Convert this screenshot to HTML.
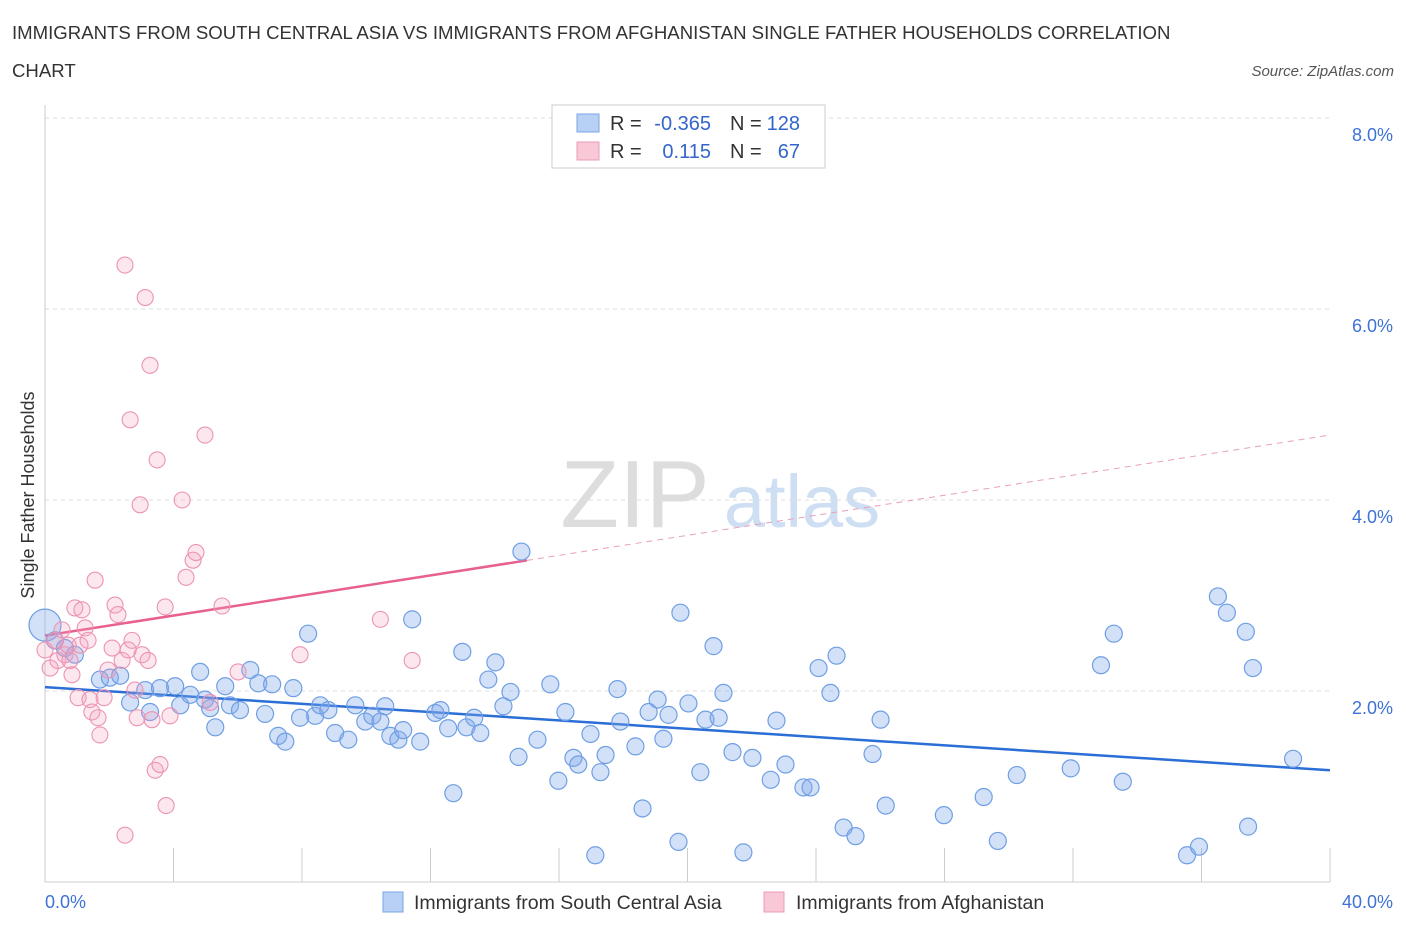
<!DOCTYPE html>
<html><head><meta charset="utf-8"><style>
body{margin:0;background:#fff;font-family:"Liberation Sans",sans-serif;}
svg text{font-family:"Liberation Sans",sans-serif;}
</style></head><body>
<svg id="chart" width="1406" height="930" xmlns="http://www.w3.org/2000/svg">
<text x="12" y="39" font-size="18.6" fill="#333">IMMIGRANTS FROM SOUTH CENTRAL ASIA VS IMMIGRANTS FROM AFGHANISTAN SINGLE FATHER HOUSEHOLDS CORRELATION</text>
<text x="12" y="77" font-size="18.6" fill="#333">CHART</text>
<text x="1394" y="76" font-size="15" fill="#555" text-anchor="end" font-style="italic">Source: ZipAtlas.com</text>
<g>
<text x="635" y="527" font-size="96" fill="#ddd" text-anchor="middle" font-family="Liberation Serif,serif">ZIP</text>
<text x="802" y="527" font-size="74" fill="#cfdff3" text-anchor="middle">atlas</text>
</g>
<g id="grid"></g>
<g id="axes"></g>
<g id="trends"></g>
<g id="points"></g>
<text transform="translate(34,495) rotate(-90)" font-size="18" fill="#333" text-anchor="middle">Single Father Households</text>
<g>
<rect x="552" y="105" width="273" height="63" fill="#fff" stroke="#ccc"/>
<rect x="577" y="114" width="22" height="18" fill="#b9d0f5" stroke="#7aa4e6"/>
<rect x="577" y="142" width="22" height="18" fill="#f9c8d7" stroke="#ec9bb6"/>
<text x="610" y="130" font-size="20" fill="#333">R =</text>
<text x="711" y="130" font-size="20" fill="#3366cc" text-anchor="end">-0.365</text>
<text x="730" y="130" font-size="20" fill="#333">N =</text>
<text x="800" y="130" font-size="20" fill="#3366cc" text-anchor="end">128</text>
<text x="610" y="158" font-size="20" fill="#333">R =</text>
<text x="711" y="158" font-size="20" fill="#3366cc" text-anchor="end">0.115</text>
<text x="730" y="158" font-size="20" fill="#333">N =</text>
<text x="800" y="158" font-size="20" fill="#3366cc" text-anchor="end">67</text>
</g>
<g>
<rect x="383" y="892" width="20" height="20" fill="#b9d0f5" stroke="#7aa4e6"/>
<text x="414" y="909" font-size="19.5" fill="#333">Immigrants from South Central Asia</text>
<rect x="764" y="892" width="20" height="20" fill="#f9c8d7" stroke="#ec9bb6"/>
<text x="796" y="909" font-size="19.5" fill="#333">Immigrants from Afghanistan</text>
</g>
</svg>
<script>
const blueX=[0,0.31,0.62,0.93,1.71,2.02,2.34,2.65,3.12,3.27,3.58,4.05,4.21,4.52,4.83,4.98,5.14,5.30,5.61,5.76,6.07,6.39,6.64,6.85,7.07,7.26,7.48,7.73,7.94,8.19,8.41,8.57,8.82,9.03,9.44,9.66,9.97,10.19,10.44,10.59,10.75,11.00,11.15,11.43,11.68,12.15,12.31,12.55,12.71,12.99,13.12,13.36,13.55,13.80,14.02,14.27,14.49,14.74,14.83,15.33,15.73,15.98,16.20,16.45,16.60,16.98,17.13,17.29,17.45,17.82,17.91,18.38,18.60,18.79,19.07,19.25,19.41,19.72,19.78,20.03,20.40,20.56,20.81,20.97,21.12,21.40,21.74,22.02,22.59,22.77,23.05,23.61,23.83,24.08,24.45,24.64,24.86,25.23,25.76,26.01,26.17,27.98,29.22,29.66,30.25,31.93,32.87,33.27,33.55,35.55,35.92,36.51,36.79,37.38,37.45,37.60,38.85];
const blueY=[2.69,2.53,2.45,2.38,2.12,2.14,2.16,1.88,2.01,1.78,2.03,2.05,1.85,1.96,2.20,1.91,1.82,1.62,2.05,1.85,1.80,2.22,2.08,1.76,2.07,1.53,1.47,2.03,1.72,2.60,1.74,1.85,1.80,1.56,1.49,1.85,1.68,1.74,1.68,1.84,1.53,1.49,1.59,2.75,1.47,1.77,1.80,1.61,0.93,2.41,1.62,1.72,1.56,2.12,2.30,1.84,1.99,1.31,3.46,1.49,2.07,1.06,1.78,1.30,1.23,1.55,0.28,1.15,1.33,2.02,1.68,1.42,0.77,1.78,1.91,1.50,1.75,0.42,2.82,1.87,1.15,1.70,2.47,1.72,1.98,1.36,0.31,1.30,1.07,1.69,1.23,0.99,0.99,2.24,1.98,2.37,0.57,0.48,1.34,1.70,0.80,0.70,0.89,0.43,1.12,1.19,2.27,2.60,1.05,0.28,0.37,2.99,2.82,2.62,0.58,2.24,1.29];
const pinkX=[0,0.16,0.31,0.40,0.53,0.62,0.72,0.78,0.84,0.93,1.03,1.09,1.15,1.25,1.34,1.40,1.46,1.56,1.65,1.71,1.84,1.96,2.09,2.18,2.27,2.40,2.49,2.49,2.59,2.65,2.71,2.80,2.87,2.96,3.02,3.12,3.21,3.27,3.33,3.43,3.49,3.58,3.74,3.77,3.89,4.27,4.39,4.61,4.70,4.98,5.14,5.51,6.01,7.94,10.44,11.43];
const pinkY=[2.43,2.24,2.53,2.32,2.64,2.38,2.48,2.32,2.17,2.87,1.93,2.48,2.85,2.66,2.53,1.91,1.78,3.16,1.72,1.54,1.93,2.22,2.45,2.90,2.80,2.32,6.46,0.49,2.43,4.84,2.53,2.01,1.72,3.95,2.38,6.12,2.32,5.41,1.70,1.17,4.42,1.23,2.88,0.80,1.74,4.00,3.19,3.37,3.45,4.68,1.88,2.89,2.20,2.38,2.75,2.32];
const yTicks=[2,4,6,8];
const blueTrend=[2.04,1.17];
const pinkTrend=[2.58,4.68];
const NS="http://www.w3.org/2000/svg";
const X=v=>45+v*1285/40, Y=v=>882-v*95.5;
function mk(t,a,p){const e=document.createElementNS(NS,t);for(const k in a)e.setAttribute(k,a[k]);p.appendChild(e);return e;}
const grid=document.getElementById('grid'),axes=document.getElementById('axes');
yTicks.forEach(t=>{
 const l=mk('line',{x1:45,x2:1330,y1:Y(t),y2:Y(t),stroke:'#ddd','stroke-dasharray':'4,4'},grid);
 
 
 const tx=mk('text',{x:1393,y:Y(t)+23,'font-size':18,fill:'#3d72d6','text-anchor':'end'},axes);
 tx.textContent=t.toFixed(1)+'%';
 
 
});
const ax=mk('line',{x1:45,x2:1330,y1:882,y2:882,stroke:'#ccc'},axes);


const ay=mk('line',{x1:45,x2:45,y1:105,y2:882,stroke:'#ccc'},axes);


for(let i=0;i<=40;i+=4){const t=mk('line',{x1:X(i),x2:X(i),y1:848,y2:882,stroke:'#ccc'},axes);
 
 }
[[0,'0.0%','start',45],[40,'40.0%','end',1393]].forEach(d=>{const t=mk('text',{x:d[3],y:908,'font-size':18,fill:'#3d72d6','text-anchor':d[2]},axes);t.textContent=d[1];
 
 });
const tr=document.getElementById('trends');
const bt=mk('line',{x1:X(0),y1:Y(blueTrend[0]),x2:X(40),y2:Y(blueTrend[1]),stroke:'#2a6ed6','stroke-width':2.5},tr);


const pAt=x=>pinkTrend[0]+(pinkTrend[1]-pinkTrend[0])*x/40;
const ps=mk('line',{x1:X(0),y1:Y(pAt(0)),x2:X(15),y2:Y(pAt(15)),stroke:'#e8608d','stroke-width':2.5},tr);


const pd=mk('line',{x1:X(15),y1:Y(pAt(15)),x2:X(40),y2:Y(pAt(40)),stroke:'#e8a0b8','stroke-width':1,'stroke-dasharray':'6,5'},tr);


const pts=document.getElementById('points');
blueX.forEach((x,i)=>{const c=mk('circle',{cx:X(x),cy:Y(blueY[i]),r:i==0?16:8.5,fill:'rgba(130,170,235,0.35)',stroke:'#6f9fe4','stroke-width':1.2},pts);
 
 });
pinkX.forEach((x,i)=>{const c=mk('circle',{cx:X(x),cy:Y(pinkY[i]),r:8,fill:'rgba(245,160,190,0.25)',stroke:'#ec93b2','stroke-width':1.1},pts);
 
 });
</script>
</body></html>
